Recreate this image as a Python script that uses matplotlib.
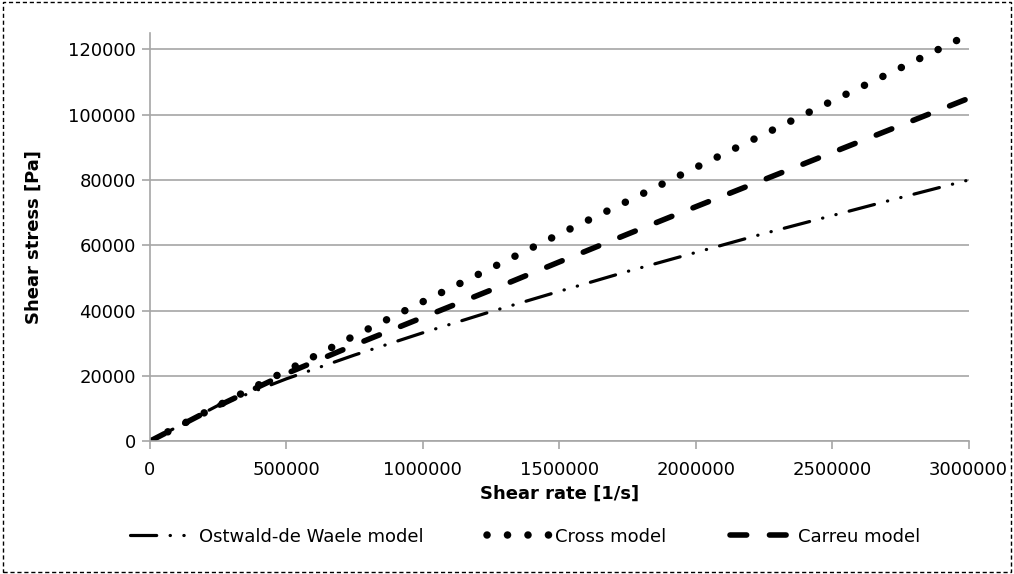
import matplotlib
matplotlib.use("Agg")
from matplotlib import pyplot as plt
from matplotlib.patches import Rectangle

# shear rate [1/s]
shear_rate = [0, 250000, 500000, 750000, 1000000, 1250000, 1500000,
              1750000, 2000000, 2250000, 2500000, 2750000, 3000000]
# shear stress [Pa]
ostwald = [0, 10960, 19100, 26400, 33200, 39700, 45900,
           52000, 57800, 63600, 69100, 74600, 80000]
cross = [0, 10900, 21600, 32300, 42700, 53000, 63400,
         73500, 83800, 94000, 104200, 114300, 124500]
carreu = [0, 10800, 20700, 29500, 37900, 46300, 54900,
          63400, 71800, 80100, 88400, 96700, 105000]

labels = ["Ostwald-de Waele model", "Cross model", "Carreu model"]
x_ticks = [0, 500000, 1000000, 1500000, 2000000, 2500000, 3000000]
y_ticks = [0, 20000, 40000, 60000, 80000, 100000, 120000]

plt.rcParams["font.family"] = ["DejaVu Sans"]
plt.rcParams["font.size"] = 13

fig = plt.figure(figsize=(10.14, 5.74), dpi=100)
ax = fig.add_axes([0.1476, 0.2312, 0.8077, 0.7113])

grid_col = "#a6a6a6"
ax.plot(shear_rate, ostwald, color="black", lw=2.3, solid_capstyle="round",
        dash_capstyle="round", linestyle=(0, (8.2, 4.2, 0.1, 4.2, 0.1, 4.2)),
        label=labels[0])
ax.plot(shear_rate, cross, color="black", lw=5.4, dash_capstyle="round",
        linestyle=(0, (0.01, 2.72)), label=labels[1])
ax.plot(shear_rate, carreu, color="black", lw=4.0, dash_capstyle="round",
        linestyle=(0, (3.0, 4.1)), label=labels[2])

ax.set_xlim(0, 3000000)
ax.set_ylim(0, 125000)
ax.set_xticks(x_ticks)
ax.set_yticks(y_ticks)
ax.set_xticklabels([str(v) for v in x_ticks])
ax.set_yticklabels([str(v) for v in y_ticks])
ax.grid(axis="y", color=grid_col, lw=1.2)
ax.set_axisbelow(True)
for side in ["top", "right"]:
    ax.spines[side].set_visible(False)
for side in ["left", "bottom"]:
    ax.spines[side].set_color(grid_col)
    ax.spines[side].set_linewidth(1.2)
ax.tick_params(axis="both", color=grid_col, length=6, width=1.2, direction="out")
ax.tick_params(axis="x", pad=8)
ax.tick_params(axis="y", pad=4)

ax.set_xlabel("Shear rate [1/s]", fontweight="bold", labelpad=4)
ax.set_ylabel("Shear stress [Pa]", fontweight="bold", labelpad=18)

fig.legend(loc="center", bbox_to_anchor=(0.518, 0.065), ncol=3, frameon=False,
           handlelength=3.5, handletextpad=0.3, columnspacing=3.5)

# dashed border around the chart
fig.patches.append(Rectangle((0.003, 0.004), 0.994, 0.992, transform=fig.transFigure,
                             fill=False, edgecolor="black", lw=1.0,
                             linestyle=(0, (3, 2))))

fig.savefig("out.png", dpi=100)
